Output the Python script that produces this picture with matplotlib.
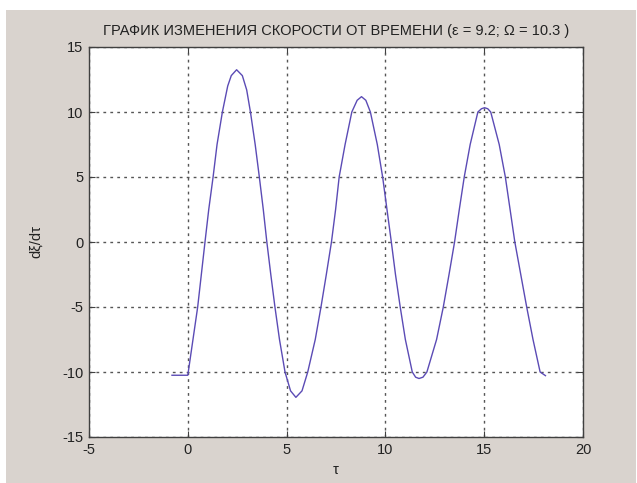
import matplotlib
matplotlib.use("Agg")
import matplotlib.pyplot as plt
from matplotlib.patches import Rectangle

# значения
tau = [-0.8, 0.0, 0.5, 0.87, 1.06, 1.28, 1.48, 1.75, 2.02, 2.2, 2.47, 2.76, 2.98,
       3.17, 3.41, 3.62, 3.82, 4.0,
       4.2, 4.41, 4.64, 4.92, 5.2, 5.47, 5.78, 6.07, 6.45, 6.74, 7.01, 7.27,
       7.48, 7.66, 7.96, 8.3, 8.57, 8.79, 9.01, 9.24, 9.59, 9.86, 10.08, 10.3,
       10.51, 10.75, 11.01, 11.36, 11.53, 11.7, 11.9, 12.1, 12.59, 12.93, 13.22, 13.5,
       13.74, 13.99, 14.29, 14.68, 14.86, 15.02, 15.18, 15.33, 15.76, 16.07, 16.31, 16.55,
       16.85, 17.15, 17.47, 17.83, 18.1]
v = [-10.25, -10.25, -5.0, 0.0, 2.5, 5.0, 7.5, 10.0, 12.0, 12.8, 13.25, 12.8, 11.7,
     10.0, 7.5, 5.0, 2.5, 0.0,
     -2.5, -5.0, -7.5, -10.0, -11.45, -11.95, -11.45, -10.0, -7.5, -5.0, -2.5, 0.0,
     2.5, 5.0, 7.5, 10.0, 10.9, 11.18, 10.9, 10.0, 7.5, 5.0, 2.5, 0.0,
     -2.5, -5.0, -7.5, -10.0, -10.4, -10.5, -10.4, -10.0, -7.5, -5.0, -2.5, 0.0,
     2.5, 5.0, 7.5, 10.0, 10.25, 10.33, 10.25, 10.0, 7.5, 5.0, 2.5, 0.0,
     -2.5, -5.0, -7.5, -10.0, -10.28]

xticks = [-5, 0, 5, 10, 15, 20]
yticks = [-15, -10, -5, 0, 5, 10, 15]

plt.rcParams['font.family'] = ['Liberation Sans', 'DejaVu Sans']
plt.rcParams['axes.unicode_minus'] = False

W, H = 637, 483
fig = plt.figure(figsize=(W / 100, H / 100), dpi=100, facecolor='white')
# серая подложка окна
fig.add_artist(Rectangle((6 / W, 0), 630 / W, 473 / H, transform=fig.transFigure,
                         facecolor='#d9d3ce', edgecolor='none', zorder=-10))

ax = fig.add_axes([89 / W, 46 / H, 494 / W, 390 / H])
ax.set_zorder(5)
ax.set_facecolor('white')
ax.plot(tau, v, color='#5b4bb5', linewidth=1.0)

ax.set_xlim(-5, 20)
ax.set_ylim(-15, 15)
ax.set_xticks(xticks)
ax.set_yticks(yticks)
ax.grid(True, color='#555555', linestyle=(0, (2, 3)), linewidth=1.0)
ax.tick_params(direction='in', length=4, width=0.8, color='#404040',
               labelsize=10.5, labelcolor='#222222', top=True, right=True,
               labeltop=False, labelright=False, pad=4)
for s in ax.spines.values():
    s.set_color('#404040')
    s.set_linewidth(1.0)

ax.set_title('ГРАФИК ИЗМЕНЕНИЯ СКОРОСТИ ОТ ВРЕМЕНИ (ε = 9.2; Ω = 10.3 )',
             fontsize=10.5, color='#222222', pad=9)
ax.set_xlabel('τ', fontsize=10.5, color='#222222', labelpad=5)
ax.set_ylabel('dξ/dτ', fontsize=10.5, color='#222222', labelpad=14)

fig.savefig('out.png', dpi=100, facecolor=fig.get_facecolor())
